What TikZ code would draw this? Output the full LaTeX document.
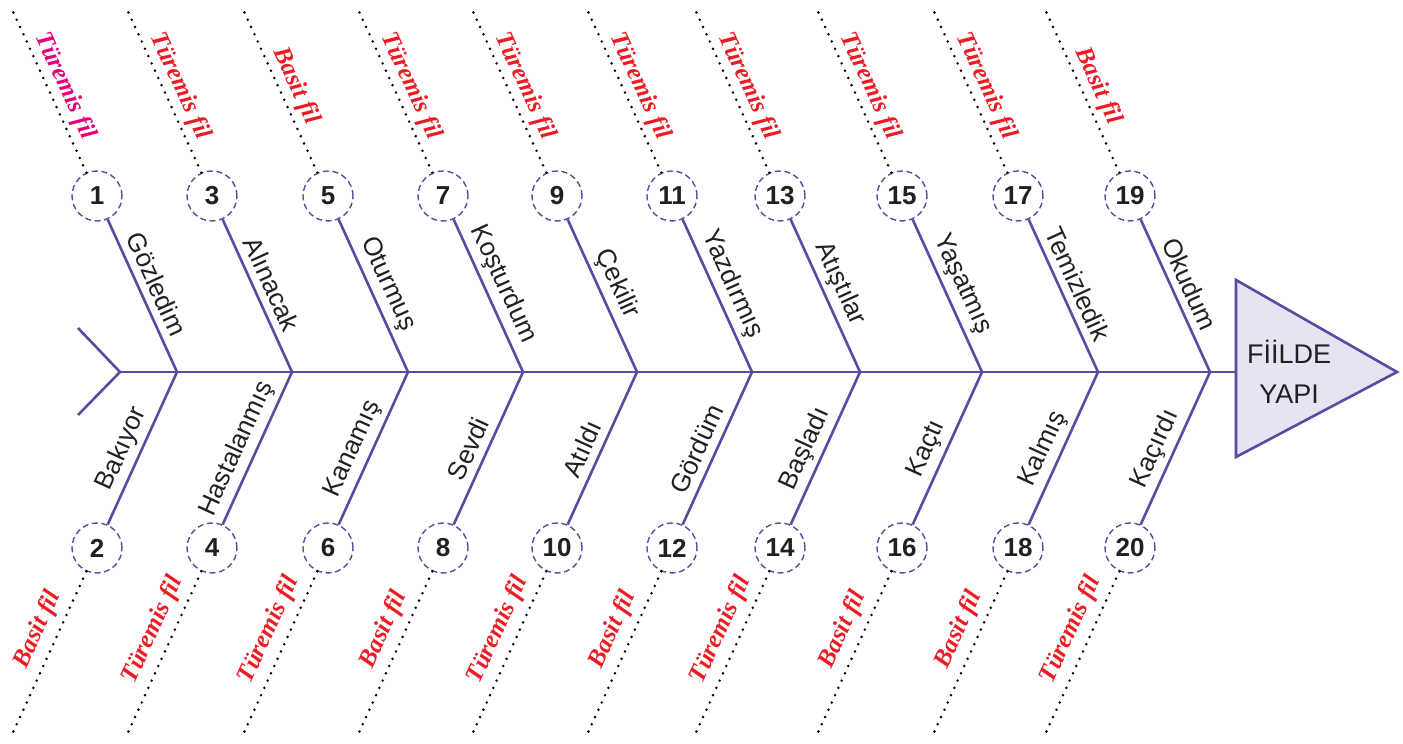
\documentclass[tikz,border=0pt]{standalone}
\usepackage{fontspec}
\setmainfont{Liberation Sans}
\newfontfamily\kindfont{Liberation Serif}
\definecolor{bone}{RGB}{88,76,162}
\definecolor{headfill}{RGB}{230,228,243}
\definecolor{kindred}{RGB}{237,28,36}
\definecolor{kindpink}{RGB}{228,0,124}
\definecolor{inkgray}{RGB}{35,31,32}
\tikzset{
  rib/.style={bone, line width=1.3pt},
  dots/.style={black, line width=1.4pt, line cap=round, dash pattern=on 0pt off 4pt},
  numcirc/.style={circle, draw=bone, line width=0.7pt, dash pattern=on 3pt off 1.8pt,
    fill=white, minimum size=25pt, inner sep=0pt,
    font=\fontsize{13}{13}\selectfont\bfseries, text=inkgray},
  word/.style={font=\fontsize{13}{13}\selectfont, text=inkgray},
  kind/.style={font=\kindfont\bfseries\itshape\fontsize{12.5}{12.5}\selectfont}
}
\begin{document}
\begin{tikzpicture}[x=0.5pt,y=0.5pt]
    \useasboundingbox (0,0) rectangle (1403,744);
    % head of the fish
    \fill[headfill] (1236,464) -- (1397,372) -- (1236,287) -- cycle;
    \draw[rib] (1236,464) -- (1397,372) -- (1236,287) -- cycle;
    \node[text=inkgray, align=center, font=\fontsize{13.5}{20}\selectfont] (head) at (1289,372) {FİİLDE\\YAPI};
    % spine and tail
    \coordinate (tail) at (120,372);
    \coordinate (base) at (1236,372);
    \draw[rib] (tail) -- (base);
    \draw[rib] (78,416) -- (tail) -- (78,329);
    % upper bones
    \foreach \jx/\num/\word/\kind/\kcol in {
        177/1/Gözledim/Türemis fil/kindpink, 292/3/Alınacak/Türemis fil/kindred,
        408/5/Oturmuş/Basit fil/kindred, 523/7/Koşturdum/Türemis fil/kindred,
        637/9/Çekilir/Türemis fil/kindred, 752/11/Yazdırmış/Türemis fil/kindred,
        860/13/Atıştılar/Türemis fil/kindred, 982/15/Yaşatmış/Türemis fil/kindred,
        1098/17/Temizledik/Türemis fil/kindred, 1210/19/Okudum/Basit fil/kindred}{
      \coordinate (j\num) at (\jx,372);
      \coordinate (e\num) at ({\jx-166},737);
      \node[numcirc] (n\num) at ({\jx-80},548) {\num};
      \draw[rib] (n\num) -- (j\num);
      \draw[dots] (n\num) -- (e\num);
      \node[word, rotate=-65.5] (w\num) at ({\jx-20},460) {\word};
      \node[kind, text=\kcol, rotate=-65.5] (k\num) at ({\jx-112},658) {\kind};
    }
    % lower bones
    \foreach \jx/\num/\word/\kind in {
        177/2/Bakıyor/Basit fil, 292/4/Hastalanmış/Türemis fil,
        408/6/Kanamış/Türemis fil, 523/8/Sevdi/Basit fil,
        637/10/Atıldı/Türemis fil, 752/12/Gördüm/Basit fil,
        860/14/Başladı/Türemis fil, 982/16/Kaçtı/Basit fil,
        1098/18/Kalmış/Basit fil, 1210/20/Kaçırdı/Türemis fil}{
      \coordinate (j\num) at (\jx,372);
      \coordinate (e\num) at ({\jx-166},7);
      \node[numcirc] (n\num) at ({\jx-80},196) {\num};
      \draw[rib] (n\num) -- (j\num);
      \draw[dots] (n\num) -- (e\num);
      \node[word, rotate=65.5] (w\num) at ({\jx-55},295) {\word};
      \node[kind, text=kindred, rotate=65.5] (k\num) at ({\jx-139},114) {\kind};
    }
\end{tikzpicture}
\end{document}
